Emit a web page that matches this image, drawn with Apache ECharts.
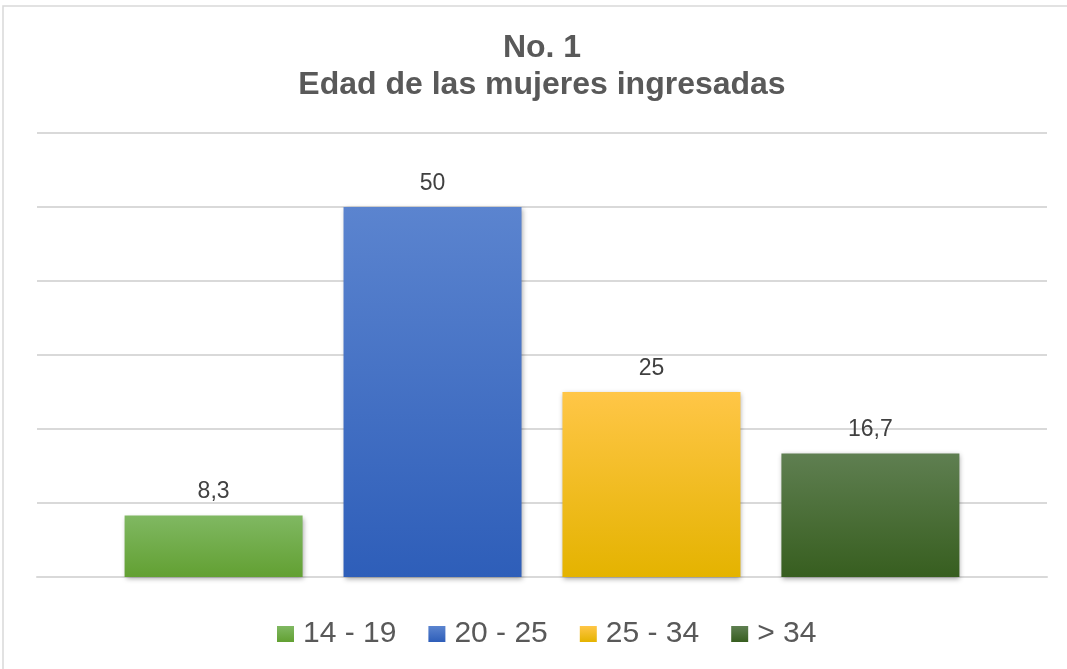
<!DOCTYPE html>
<html>
<head>
<meta charset="utf-8">
<script src="https://cdn.jsdelivr.net/npm/echarts@6/dist/echarts.min.js"></script>
<style>
  html, body { margin: 0; padding: 0; background: #fff; }
  #chart { width: 1067px; height: 669px; }
</style>
</head>
<body>
<div id="chart"></div>
<script>
// datos del gráfico
const groups = ['14 - 19', '20 - 25', '25 - 34', '> 34']
const values = [8.3, 50, 25, 16.7]
const labels = ['8,3', '50', '25', '16,7']
const colors = [
  ['#80b862', '#62a032'],
  ['#5b84cf', '#2e5eb9'],
  ['#ffc647', '#e4b300'],
  ['#5f7f51', '#375e1f']
]

const chart = echarts.init(document.getElementById('chart'))

const seriesData = groups.map((name, i) => ({
  name: name,
  type: 'bar',
  data: [values[i]],
  barWidth: 178,
  barGap: '23%',
  itemStyle: {
    color: new echarts.graphic.LinearGradient(0, 0, 0, 1, [
      { offset: 0, color: colors[i][0] },
      { offset: 1, color: colors[i][1] }
    ]),
    shadowColor: 'rgba(0,0,0,0.35)',
    shadowBlur: 5,
    shadowOffsetX: 1,
    shadowOffsetY: 2
  },
  label: {
    show: true,
    position: 'top',
    distance: 12,
    formatter: () => labels[i],
    color: '#404040',
    fontSize: 23,
    fontFamily: 'Liberation Sans'
  }
}))

const option = {
  animation: false,
  title: {
    text: 'No. 1\nEdad de las mujeres ingresadas',
    left: 537,
    textAlign: 'center',
    top: 25,
    textStyle: {
      color: '#595959',
      fontSize: 32,
      fontWeight: 'bold',
      lineHeight: 37,
      fontFamily: 'Liberation Sans'
    }
  },
  graphic: [{
    type: 'rect',
    shape: { x: 3, y: 6, width: 1100, height: 700 },
    style: { fill: 'none', stroke: '#d9d9d9', lineWidth: 1.5 },
    silent: true
  }],
  legend: {
    data: groups,
    bottom: 15,
    left: 272,
    itemWidth: 17,
    itemHeight: 16,
    itemGap: 32,
    icon: 'rect',
    textStyle: {
      color: '#595959',
      fontSize: 30,
      fontFamily: 'Liberation Sans',
      padding: [0, 0, 0, 4]
    }
  },
  grid: { left: 37, right: 20, top: 133, bottom: 92 },
  xAxis: {
    type: 'category',
    data: [''],
    axisLine: { lineStyle: { color: '#d9d9d9', width: 2 } },
    axisTick: { show: false },
    axisLabel: { show: false }
  },
  yAxis: {
    type: 'value',
    min: 0,
    max: 60,
    interval: 10,
    axisLabel: { show: false },
    axisLine: { show: false },
    axisTick: { show: false },
    splitLine: { lineStyle: { color: '#d9d9d9', width: 2 } }
  },
  series: seriesData
}

chart.setOption(option)
</script>
</body>
</html>
